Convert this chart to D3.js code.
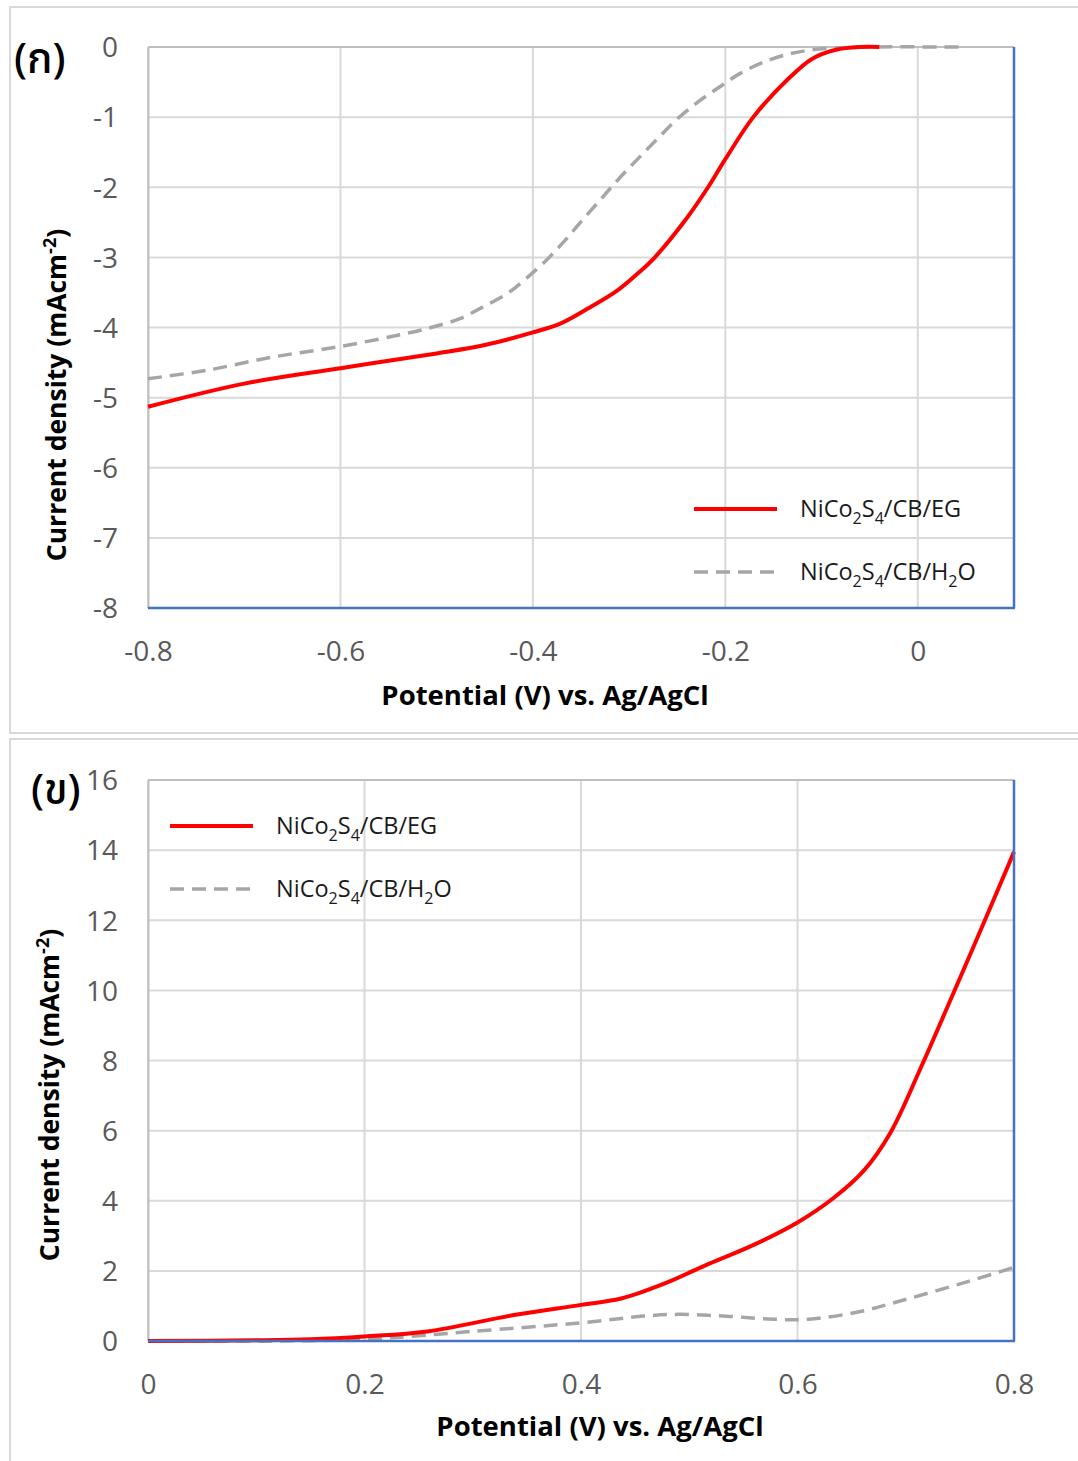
<!DOCTYPE html>
<html>
<head>
<meta charset="utf-8">
<script src="https://cdn.jsdelivr.net/npm/d3@7"></script>
<style>
  html, body { margin: 0; padding: 0; background: #fff; }
  svg { display: block; }
  text { font-family: "Open Sans", "Noto Sans", sans-serif; }
  .thai { font-family: "Noto Sans Thai", "Loma", "Garuda", "Tlwg Typo", "Norasi", "Noto Sans", "DejaVu Sans", sans-serif; }
</style>
</head>
<body>
<svg id="chart" width="1078" height="1461"></svg>
<script>
// ---------------- Data ----------------
// Panel (ก): cathodic sweep
const aTicksX = [-0.8, -0.6, -0.4, -0.2, 0];
const aTicksY = [0, -1, -2, -3, -4, -5, -6, -7, -8];
const aEG_x  = [-0.8, -0.7, -0.6, -0.5, -0.45, -0.4, -0.371, -0.343, -0.312, -0.291, -0.274, -0.239, -0.218, -0.2, -0.171, -0.135, -0.11, -0.085, -0.06, -0.04];
const aEG_y  = [-5.13, -4.80, -4.58, -4.37, -4.25, -4.07, -3.94, -3.73, -3.47, -3.23, -3.01, -2.42, -2.0, -1.6, -1.0, -0.46, -0.17, -0.04, 0, 0];
const aH2O_x = [-0.8, -0.739, -0.67, -0.6, -0.53, -0.503, -0.475, -0.451, -0.426, -0.407, -0.386, -0.368, -0.35, -0.33, -0.312, -0.292, -0.272, -0.251, -0.228, -0.206, -0.185, -0.159, -0.131, -0.103, -0.076, -0.05, 0.05];
const aH2O_y = [-4.73, -4.61, -4.42, -4.27, -4.08, -3.99, -3.87, -3.70, -3.51, -3.30, -3.04, -2.78, -2.49, -2.18, -1.90, -1.61, -1.33, -1.04, -0.78, -0.57, -0.38, -0.21, -0.09, -0.03, -0.01, 0, 0];

// Panel (ข): anodic sweep
const bTicksX = [0, 0.2, 0.4, 0.6, 0.8];
const bTicksY = [0, 2, 4, 6, 8, 10, 12, 14, 16];
const bEG_x  = [0, 0.1, 0.15, 0.2, 0.258, 0.338, 0.4, 0.438, 0.478, 0.518, 0.558, 0.6, 0.633, 0.661, 0.686, 0.714, 0.744, 0.772, 0.8];
const bEG_y  = [0, 0.02, 0.05, 0.13, 0.27, 0.74, 1.03, 1.22, 1.65, 2.2, 2.72, 3.38, 4.07, 4.85, 5.95, 7.8, 9.92, 11.92, 13.95];
const bH2O_x = [0, 0.15, 0.218, 0.298, 0.4, 0.458, 0.49, 0.538, 0.578, 0.61, 0.658, 0.698, 0.758, 0.8];
const bH2O_y = [0, 0.01, 0.08, 0.27, 0.52, 0.71, 0.76, 0.70, 0.62, 0.62, 0.84, 1.17, 1.70, 2.1];

const seriesNames = ["NiCo2S4/CB/EG", "NiCo2S4/CB/H2O"];
const panelLabels = ["(ก)", "(ข)"];
const xTitle = "Potential (V) vs. Ag/AgCl";

// ---------------- Drawing ----------------
const svg = d3.select("#chart");
const GRID = "#d9d9d9", AXISG = "#bfbfbf", BLUE = "#4472c4", RED = "#ff0000", GRAY = "#a6a6a6", TICK = "#595959";

// panel frames
svg.append("rect").attr("x", 10).attr("y", 7).attr("width", 1080).attr("height", 726)
  .attr("fill", "none").attr("stroke", "#d9d9d9").attr("stroke-width", 2);
svg.append("rect").attr("x", 10).attr("y", 739).attr("width", 1080).attr("height", 740)
  .attr("fill", "none").attr("stroke", "#d9d9d9").attr("stroke-width", 2);

function panel(cfg) {
  const g = svg.append("g");
  const x = d3.scaleLinear().domain(cfg.xDomain).range([148, 1014]);
  const y = d3.scaleLinear().domain(cfg.yDomain).range([cfg.yBottom, cfg.yTop]);

  // gridlines
  g.append("g").selectAll("line").data(cfg.ticksY).join("line")
    .attr("x1", 148).attr("x2", 1014).attr("y1", d => y(d)).attr("y2", d => y(d))
    .attr("stroke", GRID).attr("stroke-width", 2);
  g.append("g").selectAll("line").data(cfg.ticksX).join("line")
    .attr("x1", d => x(d)).attr("x2", d => x(d)).attr("y1", cfg.yTop).attr("y2", cfg.yBottom)
    .attr("stroke", GRID).attr("stroke-width", 2);

  // axes (left / top gray, bottom / right blue)
  const fmt = d => String(d).replace("−", "-");
  const yAxis = d3.axisLeft(y).tickValues(cfg.ticksY).tickSize(0).tickPadding(30).tickFormat(fmt);
  const ya = g.append("g").attr("transform", "translate(148,0)").call(yAxis);
  ya.select(".domain").attr("stroke", AXISG).attr("stroke-width", 2);
  ya.selectAll("text").attr("fill", TICK).style("font-size", "28px").attr("dy", "0.35em");

  const xAxis = d3.axisBottom(x).tickValues(cfg.ticksX).tickSize(0).tickPadding(30).tickFormat(fmt);
  const xa = g.append("g").attr("transform", `translate(0,${cfg.yBottom})`).call(xAxis);
  xa.select(".domain").remove();
  xa.selectAll("text").attr("fill", TICK).style("font-size", "28px").attr("dy", "0.35em").attr("y", cfg.xLabelY - cfg.yBottom);

  g.append("line").attr("x1", 148).attr("x2", 1014).attr("y1", cfg.yTop).attr("y2", cfg.yTop)
    .attr("stroke", AXISG).attr("stroke-width", 2);

  // series
  const line = d3.line().x(d => x(d[0])).y(d => y(d[1])).curve(d3.curveCatmullRom.alpha(0.5));
  const h2o = d3.zip(cfg.h2oX, cfg.h2oY);
  const eg = d3.zip(cfg.egX, cfg.egY);
  g.append("path").datum(h2o).attr("d", line).attr("fill", "none")
    .attr("stroke", GRAY).attr("stroke-width", 3.5).attr("stroke-dasharray", "14,8");
  g.append("path").datum(eg).attr("d", line).attr("fill", "none")
    .attr("stroke", RED).attr("stroke-width", 4);

  g.append("line").attr("x1", 148).attr("x2", 1015).attr("y1", cfg.yBottom).attr("y2", cfg.yBottom)
    .attr("stroke", BLUE).attr("stroke-width", 2.5);
  g.append("line").attr("x1", 1014).attr("x2", 1014).attr("y1", cfg.yTop).attr("y2", cfg.yBottom)
    .attr("stroke", BLUE).attr("stroke-width", 2.5);

  // legend
  const lg = g.append("g");
  const items = [{c: RED, dash: null, w: 4, name: seriesNames[0]}, {c: GRAY, dash: "14,8", w: 3.5, name: seriesNames[1]}];
  items.forEach((it, i) => {
    const yy = cfg.legY + i * 63;
    lg.append("line").attr("x1", cfg.legX).attr("x2", cfg.legX + 83).attr("y1", yy).attr("y2", yy)
      .attr("stroke", it.c).attr("stroke-width", it.w).attr("stroke-dasharray", it.dash);
    const t = lg.append("text").attr("x", cfg.legX + 106).attr("y", yy + 8).attr("fill", "#1a1a1a").style("font-size", "23.5px");
    const parts = it.name.match(/[A-Za-z\/]+|\d/g);
    let lowered = false;
    parts.forEach(p => {
      if (/^\d$/.test(p)) {
        t.append("tspan").attr("dy", lowered ? 0 : 7).style("font-size", "16px").text(p);
        lowered = true;
      } else {
        t.append("tspan").attr("dy", lowered ? -7 : 0).text(p);
        lowered = false;
      }
    });
  });

  // axis titles
  g.append("text").attr("x", cfg.xTitleX).attr("y", cfg.xTitleY).attr("text-anchor", "middle")
    .style("font-size", "27.5px").style("font-weight", "bold").attr("fill", "#000").text(xTitle);
  const yt = g.append("text").attr("transform", `translate(${cfg.yTitleX},${cfg.yTitleY}) rotate(-90)`)
    .attr("text-anchor", "middle").style("font-size", "26.5px").style("font-weight", "bold").attr("fill", "#000");
  yt.append("tspan").text("Current density (mAcm");
  yt.append("tspan").attr("dy", -10).style("font-size", "18px").text("-2");
  yt.append("tspan").attr("dy", 10).text(")");

  // panel label
  svg.append("text").attr("class", "thai").attr("x", cfg.labX).attr("y", cfg.labY)
    .style("font-size", "42px").style("font-weight", "500").attr("fill", "#000").text(cfg.label);
}

panel({
  xDomain: [-0.8, 0.1], yDomain: [-8, 0], yTop: 47, yBottom: 608,
  ticksX: aTicksX, ticksY: aTicksY,
  egX: aEG_x, egY: aEG_y, h2oX: aH2O_x, h2oY: aH2O_y,
  xLabelY: 651, legX: 694, legY: 509,
  xTitleX: 545, xTitleY: 705, yTitleX: 66, yTitleY: 395,
  label: panelLabels[0], labX: 14, labY: 73
});
panel({
  xDomain: [0, 0.8], yDomain: [0, 16], yTop: 780, yBottom: 1341,
  ticksX: bTicksX, ticksY: bTicksY,
  egX: bEG_x, egY: bEG_y, h2oX: bH2O_x, h2oY: bH2O_y,
  xLabelY: 1384, legX: 170, legY: 826,
  xTitleX: 600, xTitleY: 1436, yTitleX: 59, yTitleY: 1095,
  label: panelLabels[1], labX: 31, labY: 804
});
</script>
</body>
</html>
